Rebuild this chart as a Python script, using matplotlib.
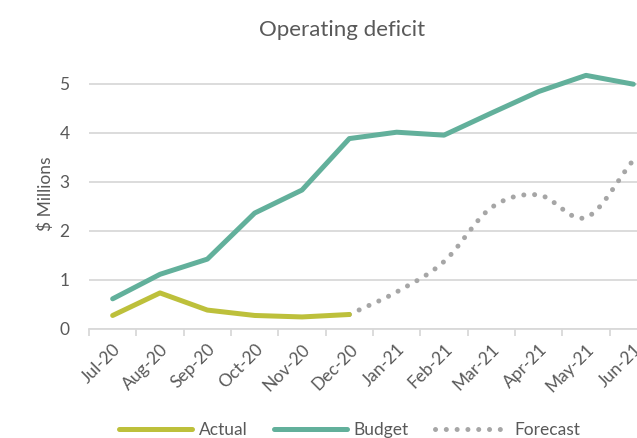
import numpy as np
import matplotlib.pyplot as plt

months = ['Jul-20', 'Aug-20', 'Sep-20', 'Oct-20', 'Nov-20', 'Dec-20',
          'Jan-21', 'Feb-21', 'Mar-21', 'Apr-21', 'May-21', 'Jun-21']
actual = [0.27, 0.73, 0.38, 0.27, 0.24, 0.29]
budget = [0.61, 1.11, 1.42, 2.36, 2.83, 3.88, 4.01, 3.95, 4.40, 4.84, 5.17, 4.99]
# forecast starts where actual ends (Dec-20)
forecast = [0.29, 0.75, 1.37, 2.47, 2.73, 2.27, 3.44]

TEXT = '#595959'
GRID = '#D9D9D9'


def smooth(xs, ys, n=30):
    """Catmull-Rom curve through the points, like Excel's smoothed line."""
    xs = np.asarray(xs, float)
    ys = np.asarray(ys, float)
    px = np.concatenate([[2 * xs[0] - xs[1]], xs, [2 * xs[-1] - xs[-2]]])
    py = np.concatenate([[2 * ys[0] - ys[1]], ys, [2 * ys[-1] - ys[-2]]])
    out_x, out_y = [], []
    for i in range(1, len(px) - 2):
        t = np.linspace(0, 1, n, endpoint=False)
        for p, out in ((px, out_x), (py, out_y)):
            p0, p1, p2, p3 = p[i - 1], p[i], p[i + 1], p[i + 2]
            out.extend(0.5 * (2 * p1 + (-p0 + p2) * t
                              + (2 * p0 - 5 * p1 + 4 * p2 - p3) * t ** 2
                              + (-p0 + 3 * p1 - 3 * p2 + p3) * t ** 3))
    out_x.append(xs[-1])
    out_y.append(ys[-1])
    return np.array(out_x), np.array(out_y)


plt.rcParams['font.family'] = ['Lato', 'DejaVu Sans']

fig = plt.figure(figsize=(6.37, 4.38), dpi=100)
ax = fig.add_axes([89 / 637, 109.3 / 438, 568 / 637, 269.5 / 438])

x = np.arange(len(months))
fx, fy = smooth(x[5:], forecast)
ax.plot(fx, fy, color='#A6A6A6', linewidth=3.6, linestyle=(0, (0.01, 2.15)),
        dash_capstyle='round', label='Forecast', zorder=2)
ax.plot(x[:len(actual)], actual, color='#BDC03B', linewidth=3.6,
        solid_capstyle='round', solid_joinstyle='round', label='Actual', zorder=3)
ax.plot(x, budget, color='#62B09B', linewidth=3.6,
        solid_capstyle='round', solid_joinstyle='round', label='Budget', zorder=3)

ax.set_xlim(-0.5, len(months) - 0.5)
ax.set_ylim(0, 5.5)
ax.set_yticks(range(0, 6))
ax.grid(axis='y', color=GRID, linewidth=1.3)
ax.set_axisbelow(True)

ax.set_xticks(x)
ax.set_xticklabels(months, rotation=45, ha='right', rotation_mode='anchor')
ax.set_xticks(np.arange(-0.5, len(months)), minor=True)
ax.tick_params(axis='x', which='major', length=0, pad=9, labelsize=12.5, colors=TEXT)
ax.tick_params(axis='x', which='minor', length=5, width=1.3, color=GRID)
ax.tick_params(axis='y', length=0, pad=14, labelsize=12.5, colors=TEXT)

for side in ['top', 'right', 'left']:
    ax.spines[side].set_visible(False)
ax.spines['bottom'].set_color(GRID)
ax.spines['bottom'].set_linewidth(1.3)

ax.set_ylabel('$ Millions', fontsize=12.5, color=TEXT, labelpad=4)
fig.text(342 / 637, 1 - 30 / 438, 'Operating deficit', ha='center', va='center',
         fontsize=16, color=TEXT)

handles, labels = ax.get_legend_handles_labels()
order = [1, 2, 0]
leg = fig.legend([handles[i] for i in order], [labels[i] for i in order],
                 loc='center', bbox_to_anchor=(350 / 637, 1 - 430 / 438), ncol=3,
                 frameon=False, fontsize=12.5, handlelength=4.2, handletextpad=0.4,
                 columnspacing=1.5, labelcolor=TEXT)

fig.savefig('out.png', dpi=100)
